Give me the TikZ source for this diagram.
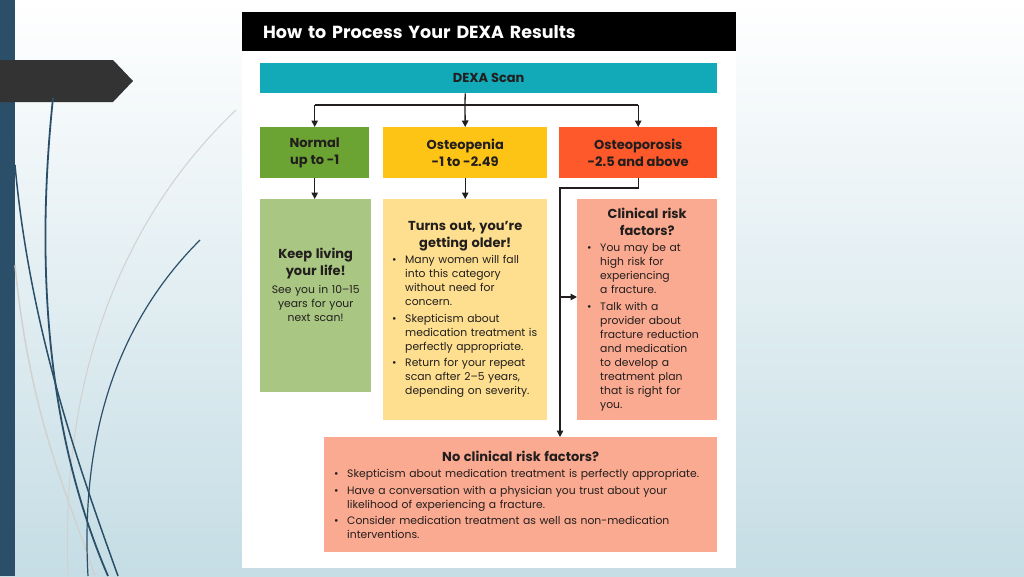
\documentclass[tikz,border=0pt]{standalone}
\usepackage{fontspec}
\setmainfont{Poppins}
\usetikzlibrary{arrows.meta, positioning, calc}
\definecolor{barblue}{RGB}{43,79,104}
\definecolor{bgblue}{RGB}{197,221,229}
\definecolor{scanteal}{RGB}{18,170,185}
\definecolor{normgreen}{RGB}{108,164,51}
\definecolor{normlight}{RGB}{169,199,130}
\definecolor{penyellow}{RGB}{253,196,22}
\definecolor{penlight}{RGB}{253,223,143}
\definecolor{pororange}{RGB}{253,89,42}
\definecolor{porlight}{RGB}{250,170,144}
\definecolor{ink}{RGB}{35,30,30}

\newcommand{\headfont}{\fontsize{13}{16.5}\selectfont\bfseries}
\newcommand{\bodyfont}{\fontsize{10.8}{14}\selectfont}
\newcommand{\bitem}[1]{\par\vspace{2.5pt}\hangindent=14pt\hangafter=1\noindent\makebox[14pt][l]{\hspace{1pt}\textbullet}#1\par}
\newcommand{\boxhead}[1]{{\centering\headfont #1\par}}

\tikzset{
  catbox/.style={anchor=north west, inner sep=0pt, minimum height=51pt, align=center, text=ink, font=\headfont},
  infobox/.style={anchor=north west, inner xsep=9pt, inner ysep=0pt, align=left, text=ink, font=\bodyfont},
  link/.style={line width=1.3pt, draw=ink},
  arr/.style={link, -{Triangle[length=6.5pt,width=6.5pt]}}
}

\begin{document}
\begin{tikzpicture}[x=1pt, y=-1pt]
  \useasboundingbox (0,0) rectangle (1024,576);
  % slide background
  \shade[top color=white, middle color=bgblue!45, bottom color=bgblue] (0,0) rectangle (1024,576);
  \fill[barblue] (0,0) rectangle (15,576);
  \fill[black!80] (0,60) -- (113,60) -- (133,81) -- (113,102) -- (0,102) -- cycle;
  \draw[black!18, line width=1pt] (236,110) .. controls (120,220) and (60,380) .. (68,576);
  \draw[black!18, line width=1.5pt] (15,265) .. controls (30,420) and (70,500) .. (95,576);
  \draw[barblue, line width=1.8pt] (53,98) .. controls (36,260) and (45,430) .. (108,576);
  \draw[barblue, line width=1.5pt] (15,165) .. controls (30,330) and (80,470) .. (118,576);
  \draw[barblue, line width=1.2pt] (200,240) .. controls (120,320) and (80,430) .. (88,576);

  % chart panel
  \fill[white] (242,12) rectangle (736,568);
  \node[fill=black, text=white, anchor=north west, minimum width=494pt, minimum height=39pt,
        text width=452pt, inner xsep=21pt, inner ysep=0pt, align=left,
        font=\fontsize{17.5}{20}\selectfont\bfseries] (title) at (242,12) {How to Process Your DEXA Results};
  \node[fill=scanteal, catbox, minimum width=457pt, minimum height=30pt] (scan) at (260,63) {DEXA Scan};

  % T-score categories
  \node[fill=normgreen, catbox, minimum width=109pt] (normal) at (260,127) {Normal\\up to -1};
  \node[fill=penyellow, catbox, minimum width=164pt] (penia) at (383,127) {Osteopenia\\-1 to -2.49};
  \node[fill=pororange, catbox, minimum width=158pt] (porosis) at (559,127) {Osteoporosis\\-2.5 and above};

  % advice boxes
  \node[fill=normlight, infobox, minimum width=111pt, text width=93pt, minimum height=193pt] (keep) at (260,199) {%
    \boxhead{Keep living\\your life!}\vspace{4pt}
    {\centering See you in 10–15\\years for your\\next scan!\par}\vspace{22pt}};
  \node[fill=penlight, infobox, inner xsep=8pt, minimum width=164pt, text width=148pt, minimum height=221pt] (older) at (383,199) {%
    \boxhead{Turns out, you’re\\getting older!}
    \bitem{Many women will fall\newline into this category\newline without need for\newline concern.}
    \bitem{Skepticism about\newline \mbox{medication treatment is}\newline perfectly appropriate.}
    \bitem{Return for your repeat\newline scan after 2–5 years,\newline depending on severity.}};
  \node[fill=porlight, infobox, minimum width=140pt, text width=122pt, minimum height=221pt] (clinical) at (577,199) {%
    \boxhead{Clinical risk\\factors?}
    \bitem{You may be at\newline high risk for\newline experiencing\newline a fracture.}
    \bitem{Talk with a\newline provider about\newline fracture reduction\newline and medication\newline to develop a\newline treatment plan\newline that is right for\newline you.}};
  \node[fill=porlight, infobox, minimum width=393pt, text width=375pt, minimum height=115pt] (noclin) at (324,437) {%
    \boxhead{No clinical risk factors?}
    \bitem{Skepticism about medication treatment is perfectly appropriate.}
    \bitem{Have a conversation with a physician you trust about your\newline likelihood of experiencing a fracture.}
    \bitem{Consider medication treatment as well as non-medication\newline interventions.}};

  % connectors
  \coordinate (split) at (465,105);
  \coordinate (bend) at (560,188);
  \coordinate (branch) at (560,297);
  \draw[link] (scan.south -| penia.north) -- (split);
  \draw[link] (normal.north |- split) -- (porosis.north |- split);
  \draw[arr] (normal.north |- split) -- (normal.north);
  \draw[arr] (split) -- (penia.north);
  \draw[arr] (porosis.north |- split) -- (porosis.north);
  \draw[arr] (normal.south) -- (keep.north -| normal.south);
  \draw[arr] (penia.south) -- (older.north);
  \draw[arr] (porosis.south) |- (bend) -- (bend |- noclin.north);
  \draw[arr] (branch) -- (branch -| clinical.west);
\end{tikzpicture}
\end{document}
